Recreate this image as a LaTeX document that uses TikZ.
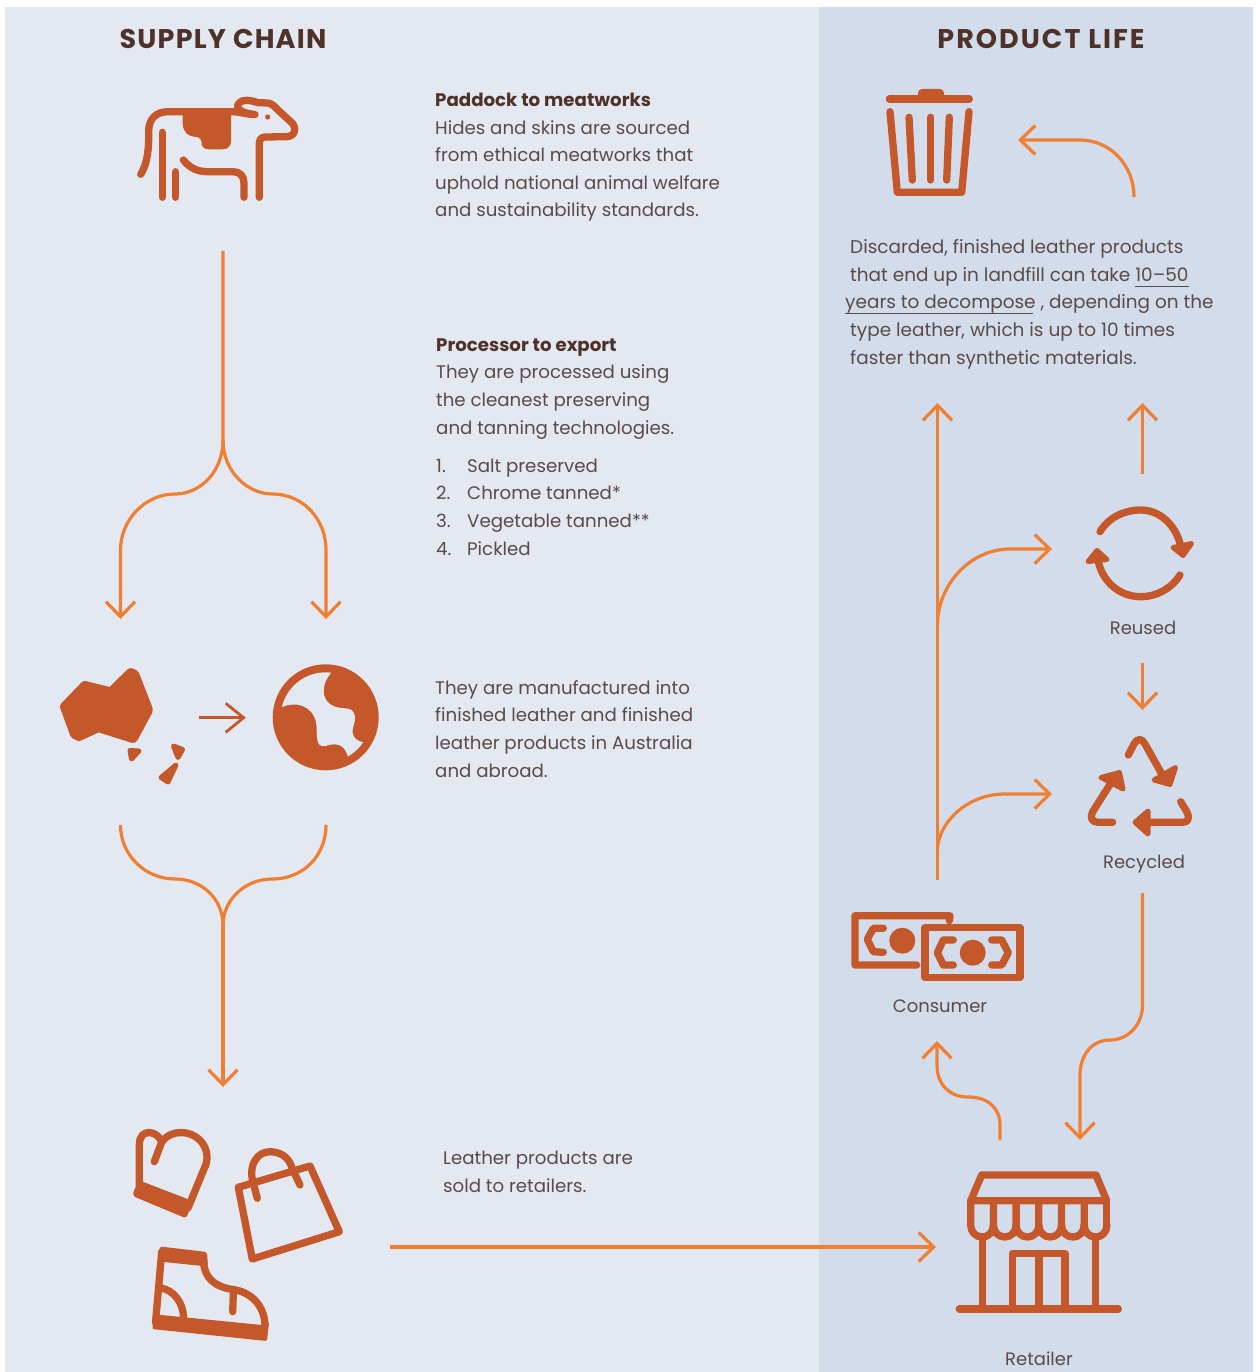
\documentclass[tikz,border=0pt]{standalone}
\usepackage{fontspec}
\setmainfont{Poppins}
\usetikzlibrary{arrows.meta}
\definecolor{panelL}{HTML}{E3E8F1}
\definecolor{panelR}{HTML}{D2DCEA}
\definecolor{icon}{HTML}{C4582A}
\definecolor{flow}{HTML}{F07F32}
\definecolor{body}{HTML}{5B4A47}
\definecolor{head}{HTML}{4E3229}
\newcommand{\hd}[1]{\textcolor{head}{\textbf{#1}}}
\tikzset{
  x=1pt,y=-1pt,
  flowline/.style={draw=flow,line width=3.2pt,line cap=butt},
  flowtip/.style={flowline,-{Straight Barb[length=15pt,width=29pt,line width=3.2pt]}},
  ico/.style={draw=icon,line width=7.3pt,line cap=round,line join=round},
  icoF/.style={fill=icon,draw=none},
  tri/.style={fill=icon,draw=icon,line width=5pt,line join=round},
  para/.style={anchor=base west,align=left,inner sep=0pt,text=body,font=\fontsize{18.2}{27.55}\selectfont},
  parab/.style={para,font=\fontsize{18.45}{27.55}\selectfont},
  lab/.style={anchor=base,inner sep=0pt,text=body,font=\fontsize{18}{24}\selectfont},
  title/.style={anchor=base,inner sep=0pt,text=head,font=\fontsize{27}{30}\selectfont\bfseries},
  ul/.style={draw=body,line width=1pt},
}
\begin{document}
\begin{tikzpicture}
\useasboundingbox (0,0) rectangle (1255,1372);
\fill[panelL] (5,7) rectangle (819,1372);
\fill[panelR] (819,7) rectangle (1253,1372);
% titles
\node[title] (tSupply) at (223,48.5) {\addfontfeature{LetterSpace=4.5}SUPPLY CHAIN};
\node[title] (tLife) at (1041,48.5) {\addfontfeature{LetterSpace=7.5}PRODUCT LIFE};
% paragraphs
\node[para] (pPaddock) at (435,217) {\hd{Paddock to meatworks}\\Hides and skins are sourced\\from ethical meatworks that\\uphold national animal welfare\\and sustainability standards.};
\node[para] (pProc) at (436,434) {\hd{Processor to export}\\They are processed using\\the cleanest preserving\\and tanning technologies.};
\node[para] (pList) at (436,555) {\makebox[31pt][l]{1.}Salt preserved\\\makebox[31pt][l]{2.}Chrome tanned*\\\makebox[31pt][l]{3.}Vegetable tanned**\\\makebox[31pt][l]{4.}Pickled};
\node[para] (pManu) at (435,777) {They are manufactured into\\finished leather and finished\\leather products in Australia\\and abroad.};
\node[para] (pSold) at (443,1192) {Leather products are\\sold to retailers.};
\node[parab] (pDisc) at (850,364) {Discarded, finished leather products\\that end up in landfill can take 10–50\\\hspace*{-5pt}years to decompose , depending on the\\type leather, which is up to 10 times\\faster than synthetic materials.};
\draw[ul] (1135,286.5) -- (1189,286.5);
\draw[ul] (845,313.5) -- (1033,313.5);
% labels
\node[lab] (lReused) at (1143,634) {Reused};
\node[lab] (lRecycled) at (1144,868) {Recycled};
\node[lab] (lConsumer) at (940,1012) {Consumer};
\node[lab] (lRetailer) at (1039,1365) {Retailer};
% cow
\fill[icon] (182.7,109) -- (182.7,123.3) .. controls (182.7,132) and (188,136.7) .. (197,137) .. controls (201,138) and (201.7,141) .. (201.7,145) .. controls (203,148) and (205,149.3) .. (208,149.3) -- (222,149.3) .. controls (228,149.3) and (231,146) .. (231,141) -- (231,109) -- cycle;
\draw[ico] (140.7,174.3) .. controls (146,166) and (148.7,154) .. (148.7,136.7) -- (148.7,131) .. controls (148.7,119) and (156,111.7) .. (168,111.7) -- (233,111.7) .. controls (240,111.7) and (246,114.5) .. (255,114.5) .. controls (240,113) and (235,108) .. (239,103) .. controls (243,99) and (250,100) .. (258,102.7) -- (268,103) .. controls (273,104) and (275,107) .. (278,110) -- (291,122) .. controls (297,127) and (296,136.7) .. (286,136.7) -- (265,137) .. controls (261,137) and (259.3,140) .. (259.3,144) -- (259.3,197.3);
\draw[ico] (162.3,132.3) -- (162.3,197.3);
\draw[ico] (175.7,171.7) -- (175.7,197.3);
\draw[ico] (183.3,160) .. controls (190,168) and (197,171.7) .. (208,171.7) -- (233,171.7) .. controls (240,171.7) and (244,176) .. (244,183) -- (244,197.3);
\fill[icon] (267.7,117) circle[radius=2.6];
% Australia
\filldraw[icon,line width=10pt,line join=round] (85,686) -- (111,692.5) -- (131,673) -- (134.5,675) -- (148,710) -- (133,738) -- (98.3,727) -- (79,736) -- (75,734) -- (65,706.7) -- cycle;
\draw[tri] (130,750.5) -- (139,751) -- (131.5,759) -- cycle;
\draw[tri] (173.5,746) -- (182.5,749.5) -- (178,757.5) -- cycle;
\draw[tri] (176,765) -- (168,782) -- (161,777.5) -- cycle;
\coordinate (ausOut) at (199,717.7);
\coordinate (globeIn) at (243,717.7);
\draw[draw=icon,line width=2.8pt] (ausOut) -- (globeIn);
\draw[draw=icon,line width=2.8pt,line join=miter] (225.7,703.3) -- (243.6,717.7) -- (225.7,732.3);
% globe
\fill[icon] (325.7,717.3) circle[radius=53];
\begin{scope}
\clip (325.7,717.3) circle[radius=45];
\fill[panelL] (270,712) -- (281.7,707.3) .. controls (295,701) and (312,705) .. (316,722) .. controls (318,732) and (314,748) .. (325,746) .. controls (338,742) and (345,745) .. (348.3,758) -- (350,770) -- (380,750) -- (364,742.3) .. controls (355,741) and (351,735) .. (353,728) .. controls (357,716) and (355,708.5) .. (345,708.3) .. controls (330,708) and (322,700) .. (324,687) .. controls (325,680) and (329,676) .. (333,670) -- (330,660) -- (270,660) -- cycle;
\end{scope}
% bags: mitten
\fill[icon] (142.7,1181.7) -- (188.3,1199.3) -- (191.5,1205) -- (187.5,1215) .. controls (186.5,1217.5) and (185,1218) .. (183,1217) -- (135,1197) .. controls (133,1196) and (133,1194) .. (133.5,1192) -- (136,1186) -- cycle;
\draw[ico] (139.3,1185) -- (139.3,1145) .. controls (139.3,1136) and (144,1132.5) .. (149,1132.5) .. controls (156,1132.5) and (160,1138) .. (161.7,1142) -- (154.3,1161.7);
\draw[ico] (161.7,1142) .. controls (167,1135) and (174,1132.5) .. (181,1132.5) .. controls (196,1132.5) and (207,1144) .. (207,1157) .. controls (207,1162) and (206,1165) .. (204,1169) -- (188,1208);
% bag
\draw[ico] (238.3,1187.3) -- (310,1166) -- (339.3,1231.7) -- (252.3,1259) -- cycle;
\draw[ico] (257.3,1198.3) -- (252.5,1180) .. controls (249,1165) and (257,1151.7) .. (270,1151.7) .. controls (280,1151.7) and (289,1157) .. (292,1168) -- (300,1185);
% shoe
\fill[icon,rounded corners=2pt] (160,1246.5) -- (207,1252) -- (208,1266.5) -- (159,1261.5) -- cycle;
\fill[icon,rounded corners=2pt] (156,1314.5) -- (262,1325) -- (269,1322) -- (267,1341) -- (152,1329) -- cycle;
\draw[ico] (161.7,1251.7) -- (155.5,1323);
\draw[ico] (203.5,1262) .. controls (204.5,1278) and (215,1287) .. (233,1289.5) .. controls (252,1292) and (265,1307) .. (265,1326);
\draw[ico] (233.3,1293) -- (232.7,1311.7);
\draw[ico,line cap=butt] (161,1288) .. controls (173,1290) and (183.5,1302) .. (183.5,1318);
% retailer
\draw[ico] (981.7,1175) -- (1096,1175) -- (1106.7,1200.7) -- (970.7,1200.7) -- cycle;
\foreach \xa in {970.7,993.4,1016.1,1038.8,1061.5,1084.2}{
  \draw[ico] (\xa,1200.7) -- (\xa,1225) .. controls (\xa,1232) and ({\xa+5},1237) .. ({\xa+11.35},1237) .. controls ({\xa+17.7},1237) and ({\xa+22.7},1232) .. ({\xa+22.7},1225);
}
\draw[ico] (1106.7,1200.7) -- (1106.7,1225);
\draw[ico] (982.3,1237) -- (982.3,1309);
\draw[ico] (1095.7,1237) -- (1095.7,1309);
\draw[ico] (1012.3,1309) -- (1012.3,1253.3) -- (1065,1253.3) -- (1065,1309);
\draw[ico] (1039,1253.3) -- (1039,1309);
\draw[ico] (959.3,1309) -- (1118.3,1309);
% trash
\draw[ico] (889.3,99) -- (969.3,99);
\fill[icon,rounded corners=4pt] (918,100) -- (918,89) -- (944,89) -- (944,100) -- cycle;
\draw[ico] (890,111.7) -- (897.3,192.3) -- (961.7,192.3) -- (969,111.7);
\draw[ico] (909,117.3) -- (912.3,180);
\draw[ico] (930.7,117.3) -- (930.7,180);
\draw[ico] (949.3,117.3) -- (946.7,180);
% reused
\draw[ico] (1100,531.7) .. controls (1108,518) and (1124,510) .. (1140.7,510) .. controls (1160,510) and (1176,525) .. (1181,547);
\draw[tri] (1173,547.5) -- (1191.5,543.5) -- (1183,555.5) -- cycle;
\draw[ico] (1180,575) .. controls (1172,588) and (1157,596.7) .. (1140.7,596.7) .. controls (1120,596.7) and (1102,582) .. (1098,560);
\draw[tri] (1088,561.5) -- (1097,550.5) -- (1107,559.5) -- cycle;
% recycled
\draw[ico] (1128.3,755) -- (1134,744) .. controls (1137,738) and (1142,738) .. (1145,744) -- (1163.3,776.7);
\draw[tri] (1154,780) -- (1175.5,767.5) -- (1170,784.5) -- cycle;
\draw[ico] (1112.7,822.3) -- (1098.3,822.3) .. controls (1092,822.3) and (1089.5,818) .. (1092.5,812) -- (1111.7,781.7);
\draw[tri] (1101,777.5) -- (1119.5,772.5) -- (1123,789) -- cycle;
\draw[ico] (1180.7,801.7) -- (1187,812) .. controls (1190,818) and (1188,822.3) .. (1183,822.3) -- (1146.7,822.3);
\draw[tri] (1148,811) -- (1135,822.3) -- (1148,834) -- cycle;
% money
\draw[ico] (949.3,920.7) -- (950,915.7) -- (855,915.7) -- (855,965) -- (916.7,965);
\draw[ico] (883.3,928.3) -- (873.3,928.3) -- (867.3,939.3) -- (873.3,951.7) -- (883.3,952.3);
\fill[icon] (902.3,940.7) circle[radius=13];
\draw[ico] (925,927.7) rectangle (1020,977.3);
\fill[icon] (972.7,952.7) circle[radius=13];
\draw[ico] (953.3,940) -- (943.3,940) -- (937.3,952.7) -- (943.3,965) -- (953.3,965);
\draw[ico] (991.7,940) -- (1001.7,940) -- (1008.3,952.7) -- (1001.7,965) -- (991.7,965);
% connector endpoints
\coordinate (cowOut) at (223,251);
\coordinate (split) at (223,440);
\coordinate (ausIn) at (120.5,619);
\coordinate (globeTop) at (326,619);
\coordinate (ausBot) at (120.5,825);
\coordinate (globeBot) at (326,825);
\coordinate (merge) at (223,925);
\coordinate (bagsIn) at (223,1087);
\coordinate (bagsOut) at (390,1247);
\coordinate (shopIn) at (936,1247);
\coordinate (shopToCons) at (1000,1140);
\coordinate (consIn) at (937,1041);
\coordinate (recOut) at (1142.5,893);
\coordinate (shopBack) at (1080,1140);
\coordinate (consOut) at (937.5,880);
\coordinate (textInA) at (937.5,403);
\coordinate (branchA) at (937.5,625);
\coordinate (reusedIn) at (1052,549);
\coordinate (branchB) at (937.5,850);
\coordinate (recIn) at (1052,794);
\coordinate (reusedOut) at (1142.5,474);
\coordinate (textInB) at (1142.5,403);
\coordinate (reusedDown) at (1142.5,663);
\coordinate (recTop) at (1142.5,710);
\coordinate (textOut) at (1134,197);
\coordinate (trashIn) at (1018,140);
% connectors
\draw[flowtip] (cowOut) -- (split) .. controls (223,472) and (200,494) .. (175,494) .. controls (145,494) and (120.5,520) .. (120.5,550) -- (ausIn);
\draw[flowtip] (split) .. controls (223,472) and (248,494) .. (272,494) .. controls (304,494) and (326,520) .. (326,550) -- (globeTop);
\draw[flowline] (ausBot) .. controls (120.5,855) and (145,879) .. (175,879) .. controls (203,879) and (223,900) .. (merge);
\draw[flowline] (globeBot) .. controls (326,855) and (304,879) .. (272,879) .. controls (245,879) and (223,900) .. (merge);
\draw[flowtip] (merge) -- (bagsIn);
\draw[flowtip] (bagsOut) -- (shopIn);
\draw[flowtip] (shopToCons) -- (1000,1125) .. controls (1000,1108) and (988,1097) .. (968,1097) .. controls (950,1097) and (937,1085) .. (937,1065) -- (consIn);
\draw[flowtip] (recOut) -- (1142.5,1005) .. controls (1142.5,1025) and (1128,1040) .. (1110,1040) .. controls (1092,1040) and (1080,1055) .. (1080,1075) -- (shopBack);
\draw[flowtip] (consOut) -- (textInA);
\draw[flowtip] (branchA) .. controls (937.5,585) and (970,549) .. (1010,549) -- (reusedIn);
\draw[flowtip] (branchB) .. controls (937.5,825) and (965,794) .. (1005,794) -- (recIn);
\draw[flowtip] (reusedOut) -- (textInB);
\draw[flowtip] (reusedDown) -- (recTop);
\draw[flowtip] (textOut) .. controls (1134,165) and (1110,140) .. (1080,140) -- (trashIn);
\end{tikzpicture}
\end{document}
